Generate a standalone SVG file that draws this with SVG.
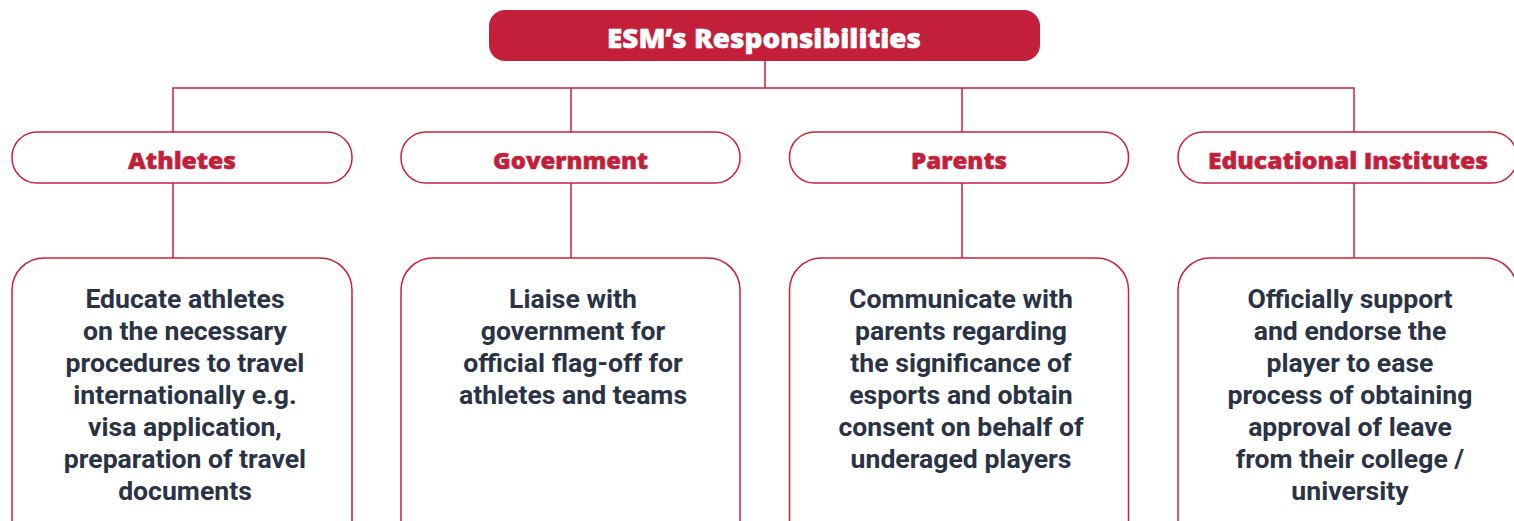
<svg xmlns="http://www.w3.org/2000/svg" width="1514" height="521" viewBox="0 0 1514 521">
<style>
.conn{stroke:#c8203b;stroke-width:1.5;fill:none}
.hdr{fill:#fff;stroke:#c8203b;stroke-width:1.5}
.box{fill:#fff;stroke:#c8203b;stroke-width:1.5}
.title{font-family:"Open Sans","Lato",sans-serif;font-weight:800;font-size:26px;fill:#fff;stroke:#fff;stroke-width:0.5;text-anchor:middle}
.htxt{font-family:"Open Sans","Lato",sans-serif;font-weight:800;font-size:23px;fill:#c41f3a;stroke:#c41f3a;stroke-width:0.5;text-anchor:middle}
.body{font-family:Roboto,"Liberation Sans",sans-serif;font-weight:700;font-size:26.6px;fill:#2a3344;text-anchor:middle}
</style>
<rect width="1514" height="521" fill="#fff"/>
<g id="connectors">
<path class="conn" d="M765 61V88M173 132V88H1354V132M571 88V132M962 88V132"/>
<path class="conn" d="M173 183V258M571 183V258M962 183V258M1354 183V258"/>
</g>
<g id="title">
<rect x="489" y="10" width="551" height="51" rx="16" fill="#c41f3a"/>
<text class="title" x="764" y="48" textLength="314" lengthAdjust="spacingAndGlyphs">ESM’s Responsibilities</text>
</g>
<g id="athletes">
<rect class="hdr" x="12" y="132" width="340" height="51" rx="25"/>
<text class="htxt" x="182" y="169" textLength="108" lengthAdjust="spacingAndGlyphs">Athletes</text>
</g>
<g id="government">
<rect class="hdr" x="401" y="132" width="339" height="51" rx="25"/>
<text class="htxt" x="570.5" y="169" textLength="155" lengthAdjust="spacingAndGlyphs">Government</text>
</g>
<g id="parents">
<rect class="hdr" x="789.5" y="132" width="339" height="51" rx="25"/>
<text class="htxt" x="959" y="169" textLength="96" lengthAdjust="spacingAndGlyphs">Parents</text>
</g>
<g id="educational">
<rect class="hdr" x="1178" y="132" width="339" height="51" rx="25"/>
<text class="htxt" x="1348" y="169" textLength="280" lengthAdjust="spacingAndGlyphs">Educational Institutes</text>
</g>
<g id="athletes-desc">
<rect class="box" x="12" y="258" width="340" height="300" rx="32"/>
<text class="body" x="185"><tspan x="185" y="308">Educate athletes</tspan><tspan x="185" y="340">on the necessary</tspan><tspan x="185" y="372">procedures to travel</tspan><tspan x="185" y="404">internationally e.g.</tspan><tspan x="185" y="436">visa application,</tspan><tspan x="185" y="468">preparation of travel</tspan><tspan x="185" y="500">documents</tspan></text>
</g>
<g id="government-desc">
<rect class="box" x="401" y="258" width="339" height="300" rx="32"/>
<text class="body" x="573"><tspan x="573" y="308">Liaise with</tspan><tspan x="573" y="340">government for</tspan><tspan x="573" y="372">official flag-off for</tspan><tspan x="573" y="404">athletes and teams</tspan></text>
</g>
<g id="parents-desc">
<rect class="box" x="789.5" y="258" width="339" height="300" rx="32"/>
<text class="body" x="961"><tspan x="961" y="308">Communicate with</tspan><tspan x="961" y="340">parents regarding</tspan><tspan x="961" y="372">the significance of</tspan><tspan x="961" y="404">esports and obtain</tspan><tspan x="961" y="436">consent on behalf of</tspan><tspan x="961" y="468">underaged players</tspan></text>
</g>
<g id="educational-desc">
<rect class="box" x="1178" y="258" width="339" height="300" rx="32"/>
<text class="body" x="1350"><tspan x="1350" y="308">Officially support</tspan><tspan x="1350" y="340">and endorse the</tspan><tspan x="1350" y="372">player to ease</tspan><tspan x="1350" y="404">process of obtaining</tspan><tspan x="1350" y="436">approval of leave</tspan><tspan x="1350" y="468">from their college /</tspan><tspan x="1350" y="500">university</tspan></text>
</g>
</svg>
